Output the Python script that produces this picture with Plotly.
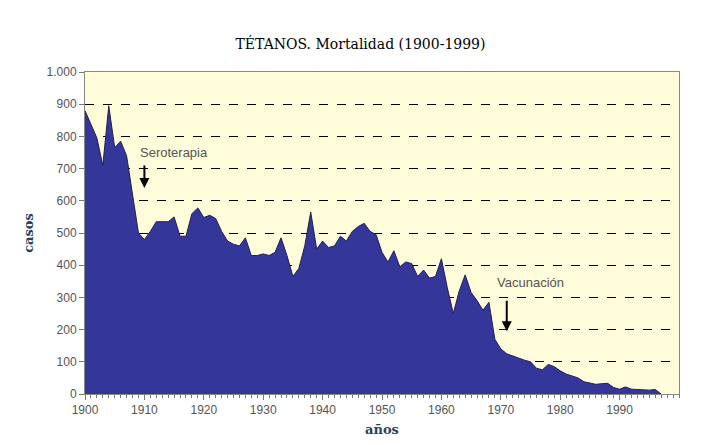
import plotly.graph_objs as go

years = list(range(1900, 1998))
casos = [880, 835, 795, 710, 895, 765, 785, 740, 620, 500,
         480, 505, 535, 535, 535, 550, 490, 490, 560, 578,
         548, 555, 545, 505, 475, 465, 460, 485, 430, 430,
         435, 430, 440, 485, 430, 365, 390, 460, 565, 450,
         475, 455, 460, 490, 475, 505, 520, 530, 505, 495,
         440, 410, 445, 395, 410, 405, 365, 385, 360, 365,
         420, 330, 250, 320, 370, 315, 290, 260, 285, 170,
         140, 125, 118, 112, 105, 100, 80, 75, 92, 85,
         72, 62, 57, 50, 38, 33, 30, 32, 33, 20,
         15, 22, 15, 14, 13, 12, 14, 0]
y_ticks = [0, 100, 200, 300, 400, 500, 600, 700, 800, 900, 1000]
y_labels = ['0', '100', '200', '300', '400', '500', '600', '700', '800', '900', '1.000']

mortalidad = go.Scatter(x=years, y=casos, mode='lines', fill='tozeroy',
                        line=dict(color='#222244', width=1),
                        fillcolor='#35369A')

layout = go.Layout(title=dict(text='TÉTANOS. Mortalidad (1900-1999)', x=0.5, y=0.93,
                              font=dict(family='DejaVu Serif', size=14, color='black')),
                   width=705, height=445, margin=dict(l=77, r=34, t=64, b=59),
                   paper_bgcolor='white', plot_bgcolor='#FFFCD9', showlegend=False,
                   xaxis=dict(title=dict(text='<b>años</b>', standoff=8,
                                         font=dict(family='DejaVu Serif', size=13)),
                              range=[1900, 2000], tickvals=list(range(1900, 2000, 10)),
                              ticks='outside', ticklen=5, tickcolor='#777', automargin=False,
                              minor=dict(dtick=1, ticks='outside', ticklen=3, tickcolor='#777'),
                              showgrid=False, showline=True, linecolor='#888', mirror=True,
                              tickfont=dict(family='Liberation Sans', size=12, color='#555')),
                   yaxis=dict(title=dict(text='<b>casos</b>', standoff=10,
                                         font=dict(family='DejaVu Serif', size=13)),
                              range=[0, 1000], tickvals=y_ticks, ticktext=y_labels,
                              ticks='outside', ticklen=5, tickcolor='#777', automargin=False,
                              gridcolor='black', griddash='dash', gridwidth=1,
                              showline=True, linecolor='#888', mirror=True,
                              tickfont=dict(family='Liberation Sans', size=12, color='#555')),
                   annotations=[dict(x=1910, y=640, ax=0, ay=-24, text='', showarrow=True,
                                     arrowhead=2, arrowwidth=2, arrowcolor='black'),
                                dict(x=1909, y=750, text='Seroterapia', showarrow=False,
                                     xanchor='left', font=dict(family='Liberation Sans', size=13, color='#555')),
                                dict(x=1971, y=195, ax=0, ay=-32, text='', showarrow=True,
                                     arrowhead=2, arrowwidth=2, arrowcolor='black'),
                                dict(x=1969, y=345, text='Vacunación', showarrow=False,
                                     xanchor='left', font=dict(family='Liberation Sans', size=13, color='#555'))])

fig = go.Figure(data=[mortalidad], layout=layout)

fig.write_html('out.html')
